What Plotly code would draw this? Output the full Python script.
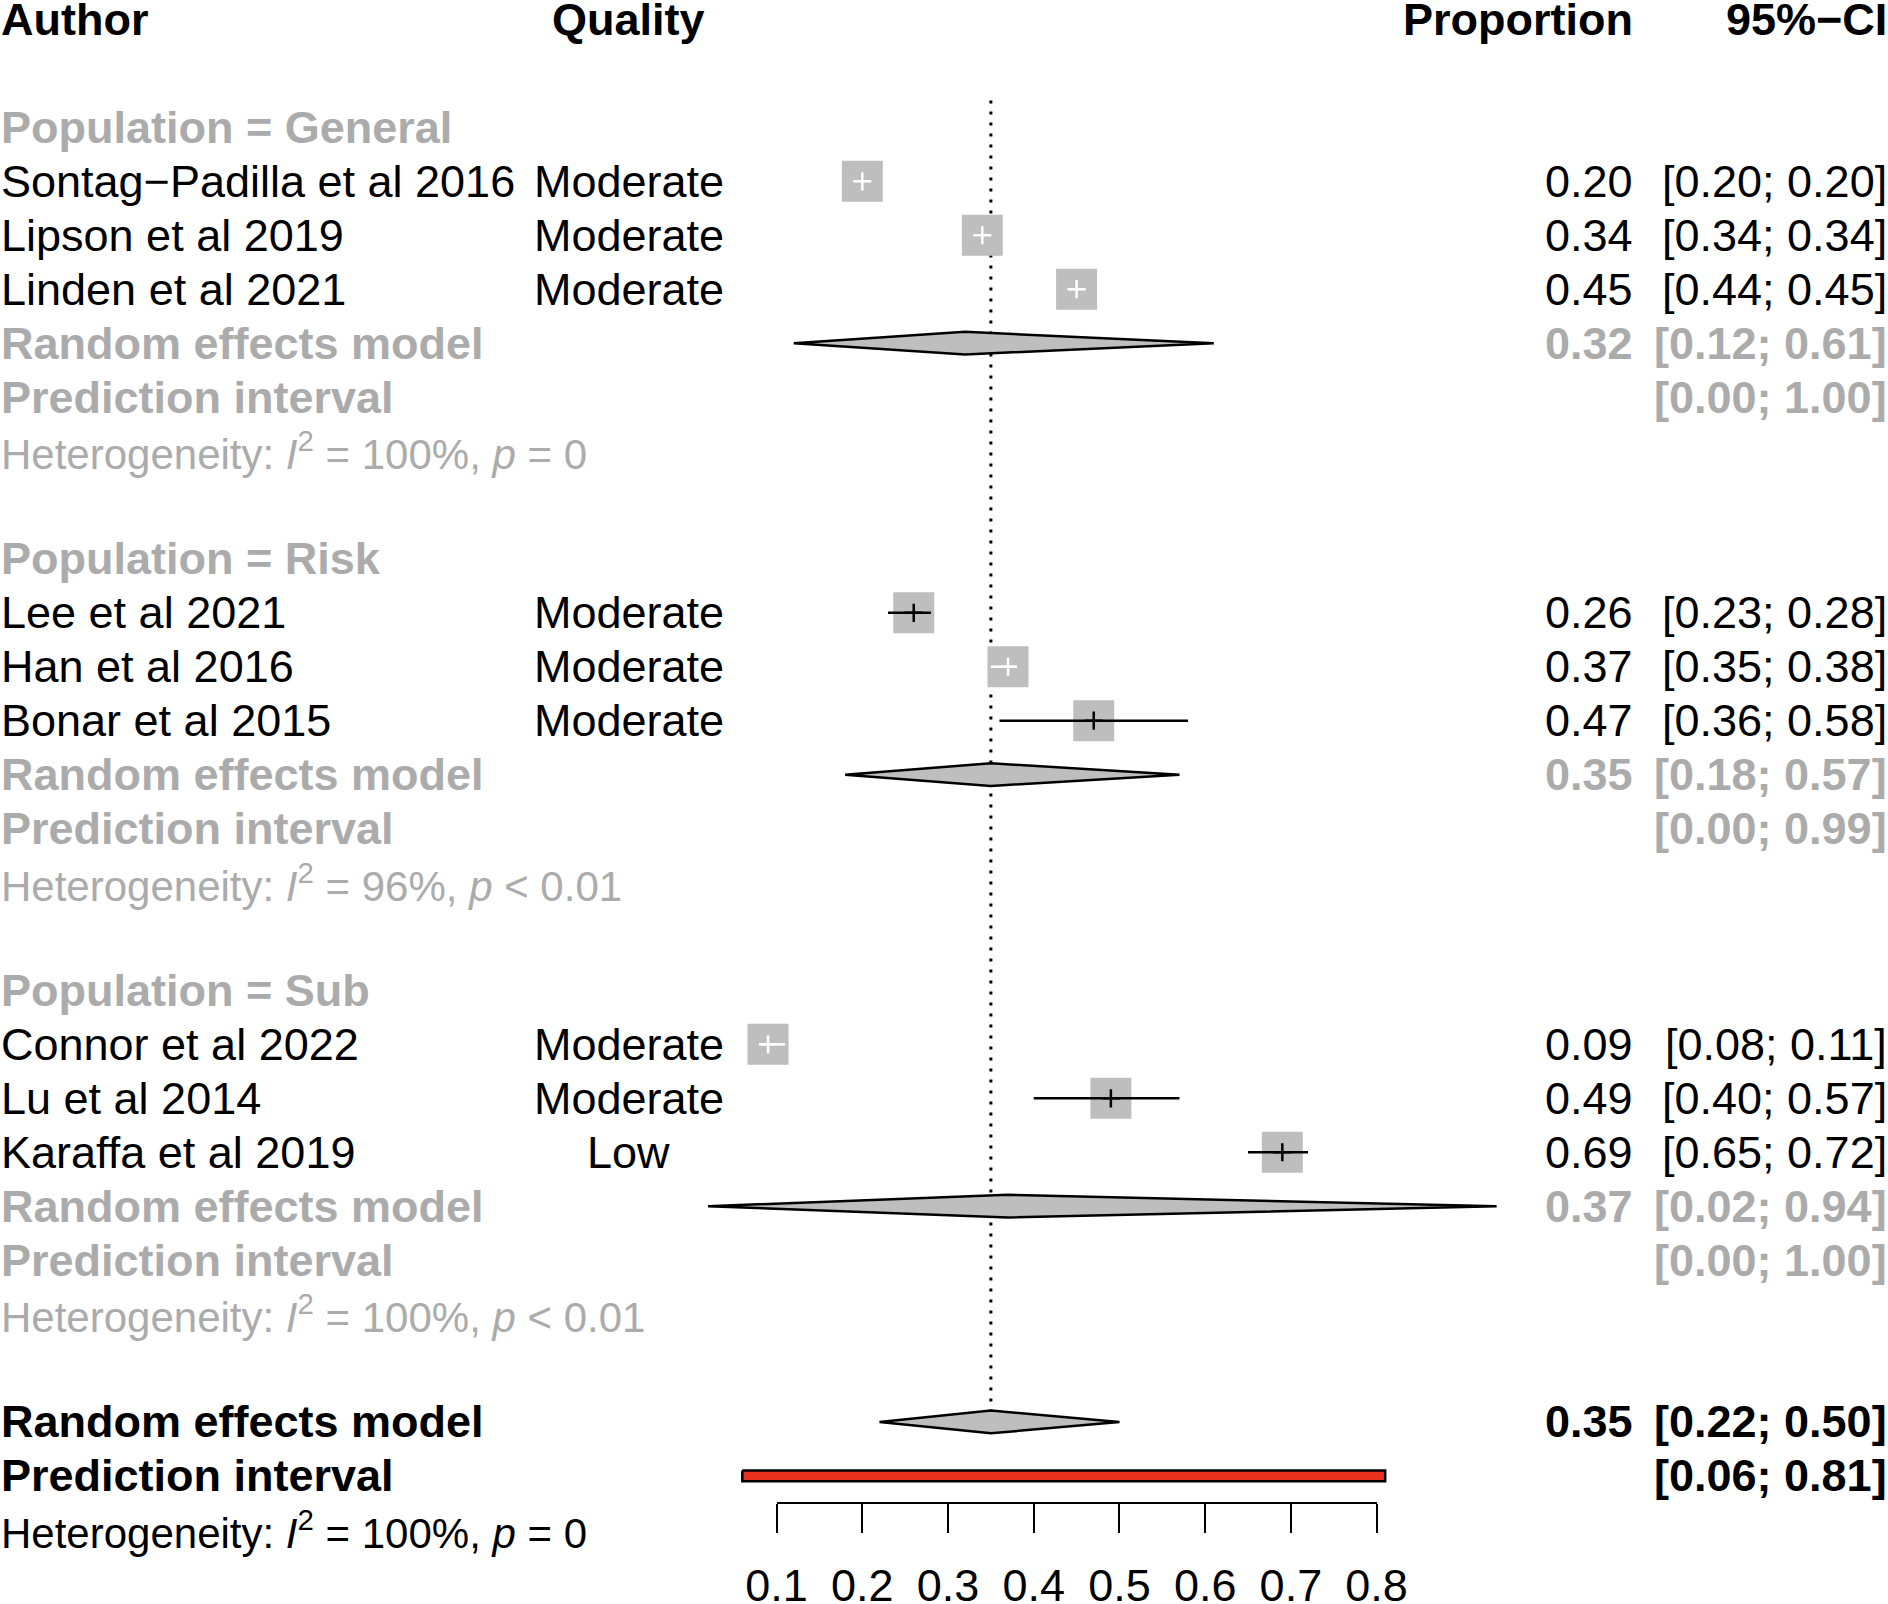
import plotly.graph_objects as go

# ---------------- data ----------------
groups = ["General", "Risk", "Sub"]
authors = [
    ["Sontag\u2212Padilla et al 2016", "Lipson et al 2019", "Linden et al 2021"],
    ["Lee et al 2021", "Han et al 2016", "Bonar et al 2015"],
    ["Connor et al 2022", "Lu et al 2014", "Karaffa et al 2019"],
]
quality = [
    ["Moderate", "Moderate", "Moderate"],
    ["Moderate", "Moderate", "Moderate"],
    ["Moderate", "Moderate", "Low"],
]
study_est = [[0.20, 0.34, 0.45], [0.26, 0.37, 0.47], [0.09, 0.49, 0.69]]
study_lo = [[0.20, 0.34, 0.44], [0.23, 0.35, 0.36], [0.08, 0.40, 0.65]]
study_hi = [[0.20, 0.34, 0.45], [0.28, 0.38, 0.58], [0.11, 0.57, 0.72]]

sub_est = [0.32, 0.35, 0.37]
sub_lo = [0.12, 0.18, 0.02]
sub_hi = [0.61, 0.57, 0.94]
sub_pi_lo = [0.00, 0.00, 0.00]
sub_pi_hi = [1.00, 0.99, 1.00]
sub_i2 = ["100%", "96%", "100%"]
sub_p = ["= 0", "< 0.01", "< 0.01"]

overall_est = 0.35
overall_lo = 0.22
overall_hi = 0.50
overall_pi_lo = 0.06
overall_pi_hi = 0.81
overall_i2 = "100%"
overall_p = "= 0"

tick_vals = [0.1, 0.2, 0.3, 0.4, 0.5, 0.6, 0.7, 0.8]
tick_text = ["0.1", "0.2", "0.3", "0.4", "0.5", "0.6", "0.7", "0.8"]

# ---------------- styling / geometry ----------------
W, H = 1888, 1604
FONT = "Liberation Sans, Arial, Helvetica, sans-serif"
FS = 45
FS_HET = 42
GRAY_TXT = "#ABABAB"
SQ_COL = "#BEBEBE"
RED = "#E8321E"

# x mapping: value 0.1 -> 776.6 px, 0.8 -> 1376.6 px
px_per_unit = (1376.6 - 776.6) / 0.7
x_left = 0.1 - 776.6 / px_per_unit
x_right = 0.1 + (W - 776.6) / px_per_unit
# y mapping: row r -> 20.5 + r*53.94 px
row_px = 53.94
y_top = -19.5 / row_px
y_bot = (H - 19.5) / row_px

def px_to_paper_x(px):
    return px / W

COL_AUTHOR = px_to_paper_x(0)
COL_QUAL = px_to_paper_x(628.5)
COL_PROP = px_to_paper_x(1634)
COL_CI = px_to_paper_x(1888)

sq_size = 41
sq_half = (sq_size / 2) / px_per_unit

fig = go.Figure()
ann = []

def add_text(txt, xp, row, anchor, color="black", bold=False, size=FS):
    if bold:
        txt = "<b>" + txt + "</b>"
    ann.append(dict(text=txt, x=xp, y=row, xref="paper", yref="y",
                    xanchor=anchor, yanchor="middle", showarrow=False,
                    borderpad=0,
                    font=dict(family=FONT, size=size, color=color)))

# header
add_text("Author", COL_AUTHOR, 0, "left", bold=True)
add_text("Quality", COL_QUAL, 0, "center", bold=True)
add_text("Proportion", COL_PROP, 0, "right", bold=True)
add_text("95%\u2212CI", COL_CI, 0, "right", bold=True)

# reference line (dotted) at overall estimate
fig.add_trace(go.Scatter(x=[overall_est, overall_est], y=[1.5, 26], mode="lines",
                         line=dict(color="black", width=3, dash="3px,8px"),
                         hoverinfo="skip", showlegend=False))

def diamond(est, lo, hi, row, h=0.21):
    fig.add_trace(go.Scatter(x=[lo, est, hi, est, lo], y=[row, row - h, row, row + h, row],
                             mode="lines", fill="toself", fillcolor=SQ_COL,
                             line=dict(color="black", width=2.5),
                             hoverinfo="skip", showlegend=False))

row = 2
for g in range(len(groups)):
    add_text("Population = " + groups[g], COL_AUTHOR, row, "left", GRAY_TXT, bold=True)
    row += 1
    for i in range(len(authors[g])):
        est, lo, hi = study_est[g][i], study_lo[g][i], study_hi[g][i]
        add_text(authors[g][i], COL_AUTHOR, row, "left")
        add_text(quality[g][i], COL_QUAL, row, "center")
        add_text(f"{est:.2f}", COL_PROP, row, "right")
        add_text(f"[{lo:.2f}; {hi:.2f}]", COL_CI, row, "right")
        fig.add_trace(go.Scatter(x=[est], y=[row], mode="markers",
                                 marker=dict(symbol="square", size=sq_size, color=SQ_COL,
                                             line=dict(width=0)),
                                 hoverinfo="skip", showlegend=False))
        inside = (est - lo) < sq_half and (hi - est) < sq_half
        c = "white" if inside else "black"
        fig.add_trace(go.Scatter(x=[lo, hi], y=[row, row], mode="lines",
                                 line=dict(color=c, width=2.5),
                                 hoverinfo="skip", showlegend=False))
        fig.add_trace(go.Scatter(x=[est], y=[row], mode="markers",
                                 marker=dict(symbol="cross-thin", size=13,
                                             line=dict(color=c, width=2.5)),
                                 hoverinfo="skip", showlegend=False))
        row += 1
    add_text("Random effects model", COL_AUTHOR, row, "left", GRAY_TXT, bold=True)
    add_text(f"{sub_est[g]:.2f}", COL_PROP, row, "right", GRAY_TXT, bold=True)
    add_text(f"[{sub_lo[g]:.2f}; {sub_hi[g]:.2f}]", COL_CI, row, "right", GRAY_TXT, bold=True)
    diamond(sub_est[g], sub_lo[g], sub_hi[g], row)
    row += 1
    add_text("Prediction interval", COL_AUTHOR, row, "left", GRAY_TXT, bold=True)
    add_text(f"[{sub_pi_lo[g]:.2f}; {sub_pi_hi[g]:.2f}]", COL_CI, row, "right", GRAY_TXT, bold=True)
    row += 1
    add_text(f"Heterogeneity: <i>I</i><sup>2</sup> = {sub_i2[g]}, <i>p</i> {sub_p[g]}",
             COL_AUTHOR, row, "left", GRAY_TXT, size=FS_HET)
    row += 2

# overall
add_text("Random effects model", COL_AUTHOR, row, "left", bold=True)
add_text(f"{overall_est:.2f}", COL_PROP, row, "right", bold=True)
add_text(f"[{overall_lo:.2f}; {overall_hi:.2f}]", COL_CI, row, "right", bold=True)
diamond(overall_est, overall_lo, overall_hi, row)
row += 1
add_text("Prediction interval", COL_AUTHOR, row, "left", bold=True)
add_text(f"[{overall_pi_lo:.2f}; {overall_pi_hi:.2f}]", COL_CI, row, "right", bold=True)
bh = 0.1
fig.add_trace(go.Scatter(x=[overall_pi_lo, overall_pi_hi, overall_pi_hi, overall_pi_lo, overall_pi_lo],
                         y=[row - bh, row - bh, row + bh, row + bh, row - bh],
                         mode="lines", fill="toself", fillcolor=RED,
                         line=dict(color="black", width=2.5),
                         hoverinfo="skip", showlegend=False))
row += 1
add_text(f"Heterogeneity: <i>I</i><sup>2</sup> = {overall_i2}, <i>p</i> {overall_p}",
         COL_AUTHOR, row, "left", "black", size=FS_HET)

# invisible trace on axis 2 so it is drawn
fig.add_trace(go.Scatter(x=[tick_vals[0], tick_vals[-1]], y=[None, None], xaxis="x2", yaxis="y",
                         mode="markers", marker=dict(opacity=0), hoverinfo="skip", showlegend=False))

axis_y_px = 1502.7
fig.update_layout(
    width=W, height=H,
    margin=dict(l=0, r=0, t=0, b=0, pad=0, autoexpand=False),
    paper_bgcolor="white", plot_bgcolor="rgba(0,0,0,0)",
    showlegend=False,
    annotations=ann,
    xaxis=dict(range=[x_left, x_right], domain=[0, 1], visible=False, fixedrange=True),
    yaxis=dict(range=[y_bot, y_top], visible=False, fixedrange=True),
    xaxis2=dict(range=[tick_vals[0], tick_vals[-1]],
                domain=[776.6 / W, 1376.6 / W],
                anchor="free", position=1 - axis_y_px / H,
                showline=True, linecolor="black", linewidth=2,
                ticks="outside", ticklen=29, tickwidth=2, tickcolor="black",
                tickvals=tick_vals, ticktext=tick_text,
                tickfont=dict(family=FONT, size=FS, color="black"),
                ticklabelstandoff=14,
                showgrid=False, zeroline=False, fixedrange=True),
)

fig.write_html("out.html", config={"displayModeBar": False},
               post_script="document.body.style.margin='0';document.body.style.overflow='hidden';")
